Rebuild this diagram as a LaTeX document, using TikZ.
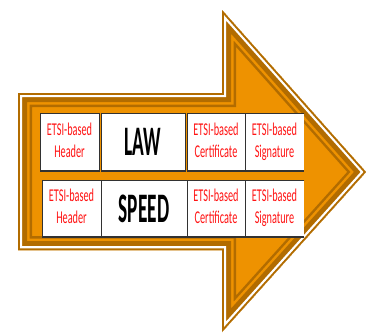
\documentclass[tikz,border=0pt]{standalone}
\usepackage{fontspec}
\usepackage{graphicx}
\setmainfont{Carlito}
\definecolor{arroworange}{RGB}{238,146,0}
\definecolor{arrowbrown}{RGB}{178,108,0}
\definecolor{etsired}{RGB}{255,20,20}
\definecolor{boxline}{RGB}{50,50,50}
\newcommand\etsitext[2]{\scalebox{0.57}[1]{\begin{tabular}{@{}c@{}}#1\\#2\end{tabular}}}
\newcommand\bigtext[1]{\scalebox{0.46}[1]{#1}}
\tikzset{
  cellbox/.style={draw=boxline, line width=0.8pt, fill=white, inner sep=0pt, outer sep=0pt,
    minimum height=#1},
  redcell/.style={cellbox=58pt, text=etsired,
    font=\fontsize{18}{22}\selectfont},
  bigcell/.style={cellbox=58pt, text=black, font=\bfseries\fontsize{42}{44}\selectfont},
  opencell/.style={draw=none}
}
\def\arrowpath{(18,93) -- (222,93) -- (222,10) -- (366,172) -- (222,332) -- (222,250) -- (18,250) -- cycle}
\begin{document}
\begin{tikzpicture}[x=1pt,y=-1pt]
\useasboundingbox (0,0) rectangle (367,333);
\begin{scope}
  \clip \arrowpath;
  \fill[arroworange] \arrowpath;
  \draw[arrowbrown, line width=28pt, line join=miter] \arrowpath;
  \draw[arroworange, line width=23pt, line join=miter] \arrowpath;
  \draw[arrowbrown, line width=18pt, line join=miter] \arrowpath;
  \draw[white, line width=8pt, line join=miter] \arrowpath;
  \draw[arrowbrown, line width=3.5pt, line join=miter] \arrowpath;
\end{scope}
% row 1
\node[redcell, minimum width=59pt] (h1) at (69.5,142) {\etsitext{ETSI-based}{Header}};
\node[bigcell, minimum width=84pt, minimum height=58pt] (law) at (143,142) {\bigtext{LAW}};
\node[redcell, minimum width=58pt] (c1) at (216,142) {\etsitext{ETSI-based}{Certificate}};
\node[redcell, opencell, minimum width=59pt] (s1) at (274.5,142) {\etsitext{ETSI-based}{Signature}};
\draw[boxline, line width=0.8pt] (s1.north east) -- (s1.north west) -- (s1.south west) -- (s1.south east);
\draw[boxline, line width=1.6pt] (h1.south west) -- (h1.south east);
\draw[boxline, line width=1.6pt] (law.south west) -- (law.south east);
\draw[boxline, line width=1.6pt] (c1.south west) -- (s1.south east);
% row 2
\node[redcell, minimum width=59pt, minimum height=57pt] (h2) at (71.5,208.5) {\etsitext{ETSI-based}{Header}};
\node[bigcell, minimum width=86pt, minimum height=57pt] (speed) at (144,208.5) {\bigtext{SPEED}};
\node[redcell, minimum width=58pt, minimum height=57pt] (c2) at (216,208.5) {\etsitext{ETSI-based}{Certificate}};
\node[redcell, opencell, minimum width=59pt, minimum height=57pt] (s2) at (274.5,208.5) {\etsitext{ETSI-based}{Signature}};
\draw[boxline, line width=0.8pt] (s2.north east) -- (s2.north west) -- (s2.south west) -- (s2.south east);
\draw[boxline, line width=1.6pt] (h2.south west) -- (s2.south east);
\end{tikzpicture}
\end{document}
